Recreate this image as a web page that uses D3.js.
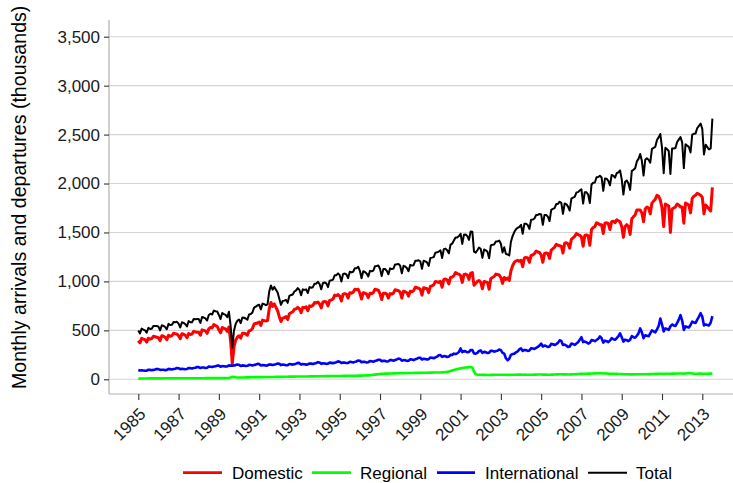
<!DOCTYPE html>
<html>
<head>
<meta charset="utf-8">
<script src="https://cdn.jsdelivr.net/npm/d3@7"></script>
<style>
  html, body { margin: 0; padding: 0; background: #fff; }
  svg { display: block; font-family: "Liberation Sans", Arial, sans-serif; }
</style>
</head>
<body>
<svg id="chart" width="733" height="483"></svg>
<script>
// Monthly passenger movements (thousands), Jan 1985 – Jul 2013, one row per year
const startYear = 1985;

const domestic = [
  [395,372,418,410,405,380,420,410,415,440,435,430],
  [425,395,445,440,430,405,450,440,445,470,465,462],
  [445,415,465,460,450,425,468,458,462,490,485,480],
  [480,450,505,500,495,470,515,530,525,560,550,540],
  [505,475,530,520,515,490,535,390,160,330,400,430],
  [445,420,470,470,465,450,495,500,520,565,570,575],
  [585,550,605,600,595,600,720,785,745,770,735,700],
  [640,590,625,630,640,610,670,680,690,715,720,735],
  [720,680,735,730,740,700,750,745,755,785,780,790],
  [770,730,790,795,790,750,805,810,820,860,855,865],
  [850,800,870,875,870,830,885,880,890,920,915,920],
  [880,820,885,880,870,835,880,875,885,920,915,910],
  [875,815,880,880,870,830,875,870,880,915,910,905],
  [890,830,900,895,885,850,900,895,905,940,935,930],
  [920,860,935,930,925,885,950,955,965,1000,995,990],
  [1000,940,1020,1025,1015,975,1040,1045,1060,1090,1080,1075],
  [1060,990,1070,1075,1065,1020,1085,1090,960,980,1000,1010],
  [990,925,1000,995,990,920,1030,1040,1050,1075,1070,1065],
  [1040,980,1040,1020,1035,1010,1110,1160,1195,1210,1215,1205],
  [1215,1150,1240,1245,1240,1195,1265,1270,1285,1310,1300,1295],
  [1270,1195,1285,1290,1285,1235,1320,1335,1350,1380,1370,1365],
  [1360,1290,1390,1395,1385,1340,1430,1445,1460,1490,1480,1470],
  [1455,1360,1470,1475,1465,1370,1530,1550,1560,1600,1590,1580],
  [1580,1490,1595,1600,1590,1530,1610,1615,1600,1630,1620,1610],
  [1560,1450,1560,1580,1560,1480,1640,1660,1680,1730,1730,1730],
  [1700,1610,1740,1760,1750,1690,1800,1820,1840,1880,1870,1830],
  [1750,1560,1790,1780,1770,1500,1740,1750,1760,1790,1780,1760],
  [1760,1595,1800,1790,1780,1700,1850,1870,1880,1900,1890,1880],
  [1860,1690,1780,1760,1740,1720,1960]
];

const regional = [
  [8,7,8,8,8,8,9,9,9,9,9,9],
  [9,9,9,9,10,10,10,10,10,10,10,10],
  [10,10,10,10,11,11,11,11,11,11,11,11],
  [11,11,11,11,12,12,12,12,12,12,12,12],
  [12,12,12,12,13,13,13,18,26,24,20,18],
  [18,18,19,19,20,20,20,21,21,21,22,22],
  [22,22,22,23,23,23,24,24,24,24,25,25],
  [25,25,25,26,26,26,27,27,27,27,28,28],
  [28,28,28,29,29,29,30,30,30,30,31,31],
  [31,31,31,32,32,32,33,33,33,33,34,34],
  [34,34,35,35,35,36,36,36,37,37,37,38],
  [38,38,39,39,40,40,42,44,46,48,50,52],
  [55,55,57,58,58,58,60,60,61,61,62,62],
  [62,62,63,63,64,64,65,65,65,66,66,66],
  [66,66,67,67,67,68,68,68,69,69,70,70],
  [70,71,72,74,76,80,85,90,95,100,104,108],
  [112,115,118,120,122,124,125,120,80,52,48,46],
  [46,45,46,45,44,44,45,45,46,46,47,47],
  [47,46,47,46,45,45,46,46,47,47,48,48],
  [48,47,48,47,46,46,47,47,48,48,49,49],
  [49,48,49,48,47,47,48,48,49,50,50,51],
  [51,50,51,50,49,49,50,51,52,53,54,55],
  [56,55,57,57,58,58,60,60,61,62,62,62],
  [62,60,61,60,58,57,57,56,55,55,54,54],
  [53,52,52,51,51,50,50,50,51,51,52,52],
  [52,51,52,52,53,53,54,54,55,55,56,56],
  [56,55,56,56,57,57,58,58,58,59,59,60],
  [60,58,60,62,64,62,60,58,57,57,58,58],
  [57,56,57,57,58,58,58]
];

const international = [
  [96,90,92,90,87,88,98,96,93,96,100,106],
  [104,96,98,97,94,96,106,104,101,105,108,115],
  [113,104,108,106,102,105,116,114,110,115,118,125],
  [124,115,120,120,116,118,130,128,125,130,133,140],
  [140,128,135,134,130,132,142,140,138,142,145,150],
  [148,136,142,140,136,138,148,146,142,146,150,158],
  [155,142,146,144,140,142,152,150,146,150,155,162],
  [158,145,150,148,144,145,156,154,150,155,160,168],
  [165,150,156,154,150,152,162,160,156,162,166,175],
  [172,158,164,162,158,160,170,168,165,170,175,183],
  [180,166,172,170,166,168,178,176,172,178,183,192],
  [190,174,180,178,172,175,186,184,180,186,192,200],
  [200,184,190,188,182,185,198,196,190,197,203,212],
  [208,190,196,194,188,190,204,202,196,204,210,220],
  [220,202,210,208,202,206,222,220,215,224,232,245],
  [248,228,238,236,228,232,250,250,262,258,265,280],
  [315,278,288,285,276,280,300,298,265,262,270,290],
  [295,270,280,278,268,272,292,290,282,288,292,305],
  [298,270,262,215,195,210,250,258,262,275,285,305],
  [315,290,300,298,290,295,318,315,310,320,330,345],
  [365,335,345,340,330,335,362,358,350,360,372,398],
  [392,350,355,345,330,335,365,360,352,365,378,405],
  [430,380,385,378,365,372,400,398,390,402,415,438],
  [420,375,395,390,380,395,420,410,405,420,440,470],
  [430,385,405,400,390,405,440,430,425,445,470,520],
  [480,420,450,445,440,470,500,490,480,510,545,620],
  [560,490,520,515,505,540,560,550,545,575,610,655],
  [600,505,540,535,530,555,590,580,575,610,640,675],
  [640,550,560,555,550,580,645]
];

const total = [
  [499,469,518,508,500,476,527,515,517,545,544,545],
  [538,500,552,546,534,511,566,554,556,585,583,587],
  [568,529,583,576,563,541,595,583,583,616,614,616],
  [615,576,636,631,623,600,657,670,662,702,695,692],
  [657,615,677,666,658,635,690,548,324,496,565,598],
  [611,574,631,629,621,608,663,667,683,732,742,755],
  [762,714,773,767,758,765,896,959,915,944,915,887],
  [823,760,800,804,810,781,853,861,867,897,908,931],
  [913,858,919,913,919,881,942,935,941,977,977,996],
  [973,919,985,989,980,942,1008,1011,1018,1063,1064,1082],
  [1064,1000,1077,1080,1071,1034,1099,1092,1099,1135,1135,1150],
  [1108,1032,1104,1097,1082,1050,1108,1103,1111,1154,1157,1162],
  [1130,1054,1127,1126,1110,1073,1133,1126,1131,1173,1175,1179],
  [1160,1082,1159,1152,1137,1104,1169,1162,1166,1210,1211,1216],
  [1206,1128,1212,1205,1194,1159,1240,1243,1249,1293,1297,1305],
  [1318,1239,1330,1335,1319,1287,1375,1385,1417,1448,1449,1463],
  [1487,1383,1476,1480,1463,1424,1510,1508,1305,1294,1318,1346],
  [1331,1240,1326,1318,1302,1236,1367,1375,1378,1409,1409,1417],
  [1385,1296,1349,1281,1275,1265,1406,1464,1504,1532,1548,1558],
  [1578,1487,1588,1590,1576,1536,1630,1632,1643,1678,1679,1689],
  [1684,1578,1679,1678,1662,1617,1730,1741,1749,1790,1792,1814],
  [1803,1690,1796,1790,1764,1724,1845,1856,1864,1908,1912,1930],
  [1941,1795,1912,1910,1888,1800,1990,2008,2011,2064,2067,2080],
  [2062,1925,2051,2050,2028,1982,2087,2081,2060,2105,2114,2134],
  [2043,1887,2017,2031,2001,1935,2130,2140,2156,2226,2252,2302],
  [2232,2081,2242,2257,2243,2213,2354,2364,2375,2445,2471,2506],
  [2366,2105,2366,2351,2332,2097,2358,2358,2363,2424,2449,2475],
  [2420,2158,2400,2387,2374,2317,2500,2508,2512,2567,2588,2613],
  [2557,2296,2397,2372,2348,2358,2663]
];

const seriesNames = ["Domestic", "Regional", "International", "Total"];
const seriesColors = ["#ff0000", "#00ff00", "#0000ff", "#000000"];
const seriesWidths = [3, 2.6, 2.6, 2];

const yTicks = [0, 500, 1000, 1500, 2000, 2500, 3000, 3500];
const xTicks = [1985,1987,1989,1991,1993,1995,1997,1999,2001,2003,2005,2007,2009,2011,2013];
const yTitle = "Monthly arrivals and departures (thousands)";

// flatten year rows into {t: decimal year, v: value}
function toPoints(rows) {
  const pts = [];
  rows.forEach((row, yi) => row.forEach((v, m) => pts.push({ t: startYear + yi + m / 12, v })));
  return pts;
}
const series = [domestic, regional, international, total].map((rows, i) => ({
  name: seriesNames[i], color: seriesColors[i], width: seriesWidths[i], points: toPoints(rows)
}));

const svg = d3.select("#chart");
const panel = { left: 109, top: 20, right: 733, bottom: 394 };

const x = d3.scaleLinear().domain([1985, 2013]).range([138.3, 702.3]);
const y = d3.scaleLinear().domain([0, 3500]).range([379.3, 36.7]);

svg.append("defs").append("clipPath").attr("id", "panelClip")
  .append("rect")
  .attr("x", panel.left).attr("y", panel.top)
  .attr("width", panel.right - panel.left).attr("height", panel.bottom - panel.top);

// horizontal gridlines
svg.append("g").selectAll("line").data(yTicks).join("line")
  .attr("x1", panel.left).attr("x2", panel.right)
  .attr("y1", d => y(d)).attr("y2", d => y(d))
  .attr("stroke", "#d4d4d4").attr("stroke-width", 1.1);

// series lines
const line = d3.line().x(d => x(d.t)).y(d => y(d.v));
svg.append("g").attr("clip-path", "url(#panelClip)")
  .selectAll("path").data(series).join("path")
  .attr("d", d => line(d.points))
  .attr("fill", "none")
  .attr("stroke", d => d.color)
  .attr("stroke-width", d => d.width)
  .attr("stroke-linejoin", "round");

// axis lines
svg.append("line").attr("x1", panel.left).attr("x2", panel.left)
  .attr("y1", panel.top).attr("y2", panel.bottom)
  .attr("stroke", "#b0b0b0").attr("stroke-width", 1.2);
svg.append("line").attr("x1", panel.left).attr("x2", panel.right)
  .attr("y1", panel.bottom).attr("y2", panel.bottom)
  .attr("stroke", "#b0b0b0").attr("stroke-width", 1.2);

// y axis
const yAxis = svg.append("g").attr("transform", `translate(${panel.left},0)`)
  .call(d3.axisLeft(y).tickValues(yTicks).tickFormat(d3.format(",")).tickSize(5).tickPadding(4));
yAxis.select(".domain").remove();
yAxis.selectAll(".tick line").attr("stroke", "#333").attr("stroke-width", 1.1);
yAxis.selectAll(".tick text")
  .attr("fill", "#1a1a1a").attr("font-size", 17)
  .attr("font-family", "Liberation Sans, Arial, sans-serif");

// x axis
const xAxis = svg.append("g").attr("transform", `translate(0,${panel.bottom})`)
  .call(d3.axisBottom(x).tickValues(xTicks).tickFormat(d3.format("d")).tickSize(6));
xAxis.select(".domain").remove();
xAxis.selectAll(".tick line").attr("stroke", "#333").attr("stroke-width", 1.1);
xAxis.selectAll(".tick text")
  .attr("x", 0).attr("y", 0).attr("dy", 0)
  .attr("transform", "translate(8,21) rotate(-45)")
  .attr("text-anchor", "end")
  .attr("fill", "#1a1a1a").attr("font-size", 17)
  .attr("font-family", "Liberation Sans, Arial, sans-serif");

// y title
svg.append("text")
  .attr("transform", "translate(26,389) rotate(-90)")
  .attr("text-anchor", "start")
  .attr("font-size", 19.6)
  .attr("fill", "#000")
  .text(yTitle);

// legend
const legendPos = [
  { x1: 183, x2: 222, tx: 232 },
  { x1: 312, x2: 351, tx: 360 },
  { x1: 437, x2: 475, tx: 485 },
  { x1: 588, x2: 627, tx: 636 }
];
const legend = svg.append("g");
series.forEach((s, i) => {
  const p = legendPos[i];
  legend.append("line")
    .attr("x1", p.x1).attr("x2", p.x2).attr("y1", 472.7).attr("y2", 472.7)
    .attr("stroke", s.color).attr("stroke-width", i === 3 ? 2 : 2.8);
  legend.append("text")
    .attr("x", p.tx).attr("y", 479)
    .attr("font-size", 17).attr("fill", "#000")
    .text(s.name);
});
</script>
</body>
</html>
